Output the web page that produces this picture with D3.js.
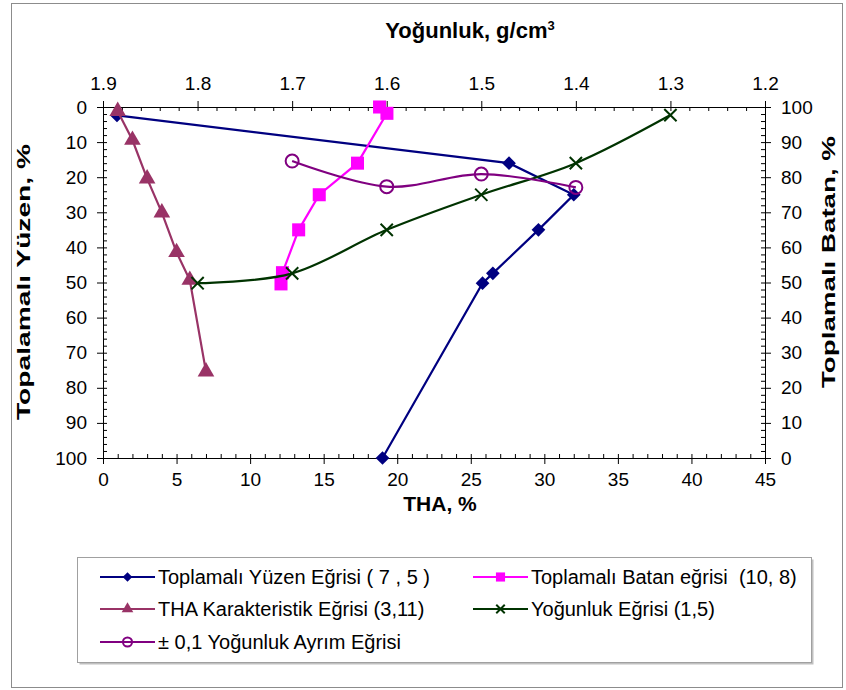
<!DOCTYPE html>
<html>
<head>
<meta charset="utf-8">
<script src="https://cdn.jsdelivr.net/npm/d3@7"></script>
<style>
  body { margin: 0; background: #fff; }
  text { font-family: "Liberation Sans", Arial, sans-serif; }
  .axis text { font-size: 19px; fill: #000; font-family: "Liberation Sans", Arial, sans-serif; }
  .axis path, .axis line { stroke: #000; }
  .title { font-weight: bold; }
  .legend text { font-size: 20px; white-space: pre; }
</style>
</head>
<body>
<svg id="chart" width="846" height="690"></svg>
<script>

// --- data ---
// Toplamalı Yüzen: THA % vs cumulative float %
const yuzen_tha = [0.95, 27.6, 32.0, 29.6, 26.5, 25.8, 19.0];
const yuzen_pct = [2.4, 16.0, 25.0, 35.0, 47.4, 50.2, 100];

// Toplamalı Batan: THA % vs cumulative sink %
const batan_tha = [18.8, 19.3, 17.3, 14.7, 13.3, 12.2, 12.1];
const batan_pct = [100, 98.2, 84.0, 75.0, 65.0, 52.8, 49.6];

// THA karakteristik: THA % vs cumulative float %
const kar_tha = [1.0, 2.0, 3.0, 4.0, 5.0, 5.9, 7.0];
const kar_pct = [1.2, 9.4, 20.4, 30.1, 41.4, 49.3, 75.4];

// Yoğunluk eğrisi: density vs cumulative sink %
const yog_density = [1.8, 1.7, 1.6, 1.5, 1.4, 1.3];
const yog_pct = [49.8, 52.6, 65.0, 75.0, 84.0, 97.7];

// ±0,1 yoğunluk ayrım eğrisi: density vs %
const ayrim_density = [1.7, 1.6, 1.5, 1.4];
const ayrim_pct = [15.4, 22.7, 19.1, 22.9];

const legend_labels = [
	'Toplamalı Yüzen Eğrisi ( 7 , 5 )',
	'Toplamalı Batan eğrisi  (10, 8)',
	'THA Karakteristik Eğrisi (3,11)',
	'Yoğunluk Eğrisi (1,5)',
	'± 0,1 Yoğunluk Ayrım Eğrisi'
];

const svg = d3.select('#chart');

const plot = {left: 103, right: 765, top: 107, bottom: 458};

const x_tha = d3.scaleLinear().domain([0, 45]).range([plot.left, plot.right]);
const x_den = d3.scaleLinear().domain([1.9, 1.2]).range([plot.left, plot.right]);
const y_left = d3.scaleLinear().domain([0, 100]).range([plot.top, plot.bottom]);
const y_right = d3.scaleLinear().domain([0, 100]).range([plot.bottom, plot.top]);

// outer chart border
svg.append('rect')
	.attr('x', 11.5).attr('y', 3.5)
	.attr('width', 831).attr('height', 684)
	.attr('fill', 'none')
	.attr('stroke', '#8c8c8c');

// --- axes: minor/inner ticks first, then majors with labels ---
const add_axis = function(axis_fn, scale, minor_vals, major_vals, fmt, tx, ty, pad){
	svg.append('g')
		.attr('class', 'axis')
		.attr('transform', `translate(${tx},${ty})`)
		.call(axis_fn(scale).tickValues(minor_vals).tickSize(-4).tickFormat(''));
	svg.append('g')
		.attr('class', 'axis')
		.attr('transform', `translate(${tx},${ty})`)
		.call(axis_fn(scale).tickValues(major_vals).tickSize(6).tickPadding(pad).tickFormat(fmt))
		.selectAll('path').remove();
};

add_axis(d3.axisBottom, x_tha, d3.range(0, 46, 1), d3.range(0, 46, 5), d3.format('d'), 0, plot.bottom, 9);
add_axis(d3.axisTop, x_den, d3.range(0, 36).map(i => 1.9 - i*0.02), d3.range(0, 8).map(i => 1.9 - i*0.1), d3.format('.1f'), 0, plot.top, 11);
add_axis(d3.axisLeft, y_left, d3.range(0, 101, 2), d3.range(0, 101, 10), d3.format('d'), plot.left, 0, 10);
add_axis(d3.axisRight, y_right, d3.range(0, 101, 2), d3.range(0, 101, 10), d3.format('d'), plot.right, 0, 10);

// axis titles
svg.append('text').attr('class', 'title')
	.attr('x', 470).attr('y', 38).attr('text-anchor', 'middle')
	.attr('font-size', 22)
	.html('Yoğunluk, g/cm<tspan dy="-8" font-size="13">3</tspan>');

svg.append('text').attr('class', 'title')
	.attr('x', 440).attr('y', 511).attr('text-anchor', 'middle')
	.attr('font-size', 21)
	.text('THA, %');

// vertical titles are stretched lengthwise in the reference
svg.append('text').attr('class', 'title')
	.attr('transform', `translate(30,282) rotate(-90)`)
	.attr('text-anchor', 'middle')
	.attr('font-size', 18)
	.attr('textLength', 276)
	.attr('lengthAdjust', 'spacingAndGlyphs')
	.text('Topalamalı Yüzen, %');

svg.append('text').attr('class', 'title')
	.attr('transform', `translate(835,262) rotate(-90)`)
	.attr('text-anchor', 'middle')
	.attr('font-size', 18)
	.attr('textLength', 252)
	.attr('lengthAdjust', 'spacingAndGlyphs')
	.text('Toplamalı Batan, %');

// --- series ---
const zip = (a, b) => a.map((v, i) => [v, b[i]]);

const series = [
	{pts: zip(yuzen_tha, yuzen_pct), x: x_tha, y: y_left, color: '#000080', marker: d3.symbolDiamond2, size: 120, curve: d3.curveLinear},
	{pts: zip(batan_tha, batan_pct), x: x_tha, y: y_right, color: '#ff00ff', marker: d3.symbolSquare, size: 170, curve: d3.curveLinear},
	{pts: zip(kar_tha, kar_pct), x: x_tha, y: y_left, color: '#993366', marker: d3.symbolTriangle, size: 120, curve: d3.curveLinear},
	{pts: zip(yog_density, yog_pct), x: x_den, y: y_right, color: '#003300', marker: d3.symbolTimes, size: 100, curve: d3.curveCardinal.tension(0)},
	{pts: zip(ayrim_density, ayrim_pct), x: x_den, y: y_left, color: '#800080', marker: 'circle', size: 6.5, curve: d3.curveCardinal.tension(0)}
];

const draw_marker = function(g, s, px, py, scale_k){
	if(s.marker === 'circle'){
		g.append('circle')
			.attr('cx', px).attr('cy', py)
			.attr('r', s.size*scale_k)
			.attr('fill', 'none')
			.attr('stroke', s.color)
			.attr('stroke-width', 2);
	} else if(s.marker === d3.symbolTimes){
		g.append('path')
			.attr('d', d3.symbol(s.marker, s.size*scale_k*scale_k)())
			.attr('transform', `translate(${px},${py})`)
			.attr('fill', 'none')
			.attr('stroke', s.color)
			.attr('stroke-width', 2);
	} else {
		g.append('path')
			.attr('d', d3.symbol(s.marker, s.size*scale_k*scale_k)())
			.attr('transform', `translate(${px},${py})`)
			.attr('fill', s.color);
	}
};

series.forEach(function(s){
	const line = d3.line()
		.x(d => s.x(d[0]))
		.y(d => s.y(d[1]))
		.curve(s.curve);
	svg.append('path')
		.attr('d', line(s.pts))
		.attr('fill', 'none')
		.attr('stroke', s.color)
		.attr('stroke-width', 2.2);
	const g = svg.append('g');
	s.pts.forEach(d => draw_marker(g, s, s.x(d[0]), s.y(d[1]), 1));
});

// --- legend ---
svg.append('rect')
	.attr('x', 79.5).attr('y', 559.5)
	.attr('width', 734).attr('height', 105)
	.attr('fill', '#c0c0c0');
svg.append('rect')
	.attr('x', 77.5).attr('y', 557.5)
	.attr('width', 734).attr('height', 105)
	.attr('fill', '#fff')
	.attr('stroke', '#a0a0a0');

const legend_pos = [[100, 577], [473, 577], [100, 609], [473, 609], [100, 642]];
const legend = svg.append('g').attr('class', 'legend');
series.forEach(function(s, i){
	const [lx, ly] = legend_pos[i];
	legend.append('line')
		.attr('x1', lx).attr('x2', lx + 55)
		.attr('y1', ly).attr('y2', ly)
		.attr('stroke', s.color)
		.attr('stroke-width', 2.2);
	draw_marker(legend, s, lx + 27.5, ly, 0.7);
	legend.append('text')
		.attr('x', lx + 58).attr('y', ly + 7)
		.text(legend_labels[i]);
});

</script>
</body>
</html>
